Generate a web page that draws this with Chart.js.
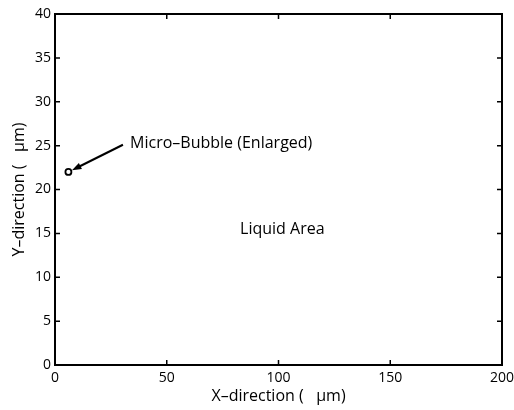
<!DOCTYPE html>
<html>
<head>
<meta charset="utf-8">
<script src="https://cdn.jsdelivr.net/npm/chart.js@4/dist/chart.umd.min.js"></script>
<style>
  html, body { margin: 0; padding: 0; background: #fff; }
  #wrap { width: 514px; height: 410px; }
</style>
</head>
<body>
<div id="wrap"><canvas id="plot"></canvas></div>
<script>
// bubble position (data units)
const bubbleX = [6];
const bubbleY = [22];

const xTicks = [0, 50, 100, 150, 200];
const yTicks = [0, 5, 10, 15, 20, 25, 30, 35, 40];

// text labels + arrow, in data units
const notes = [
  { text: 'Micro\u2013Bubble (Enlarged)', x: 33.6, y: 25.3 },
  { text: 'Liquid Area', x: 82.8, y: 15.5 }
];
const arrowFrom = [30.4, 25.1];
const arrowTo = [7.6, 22.2];

const FONT = '"Open Sans", "DejaVu Sans", sans-serif';

// frame with inward ticks, notes and arrow
const framePlugin = {
  id: 'frame',
  afterDatasetsDraw(chart) {
    const { ctx, chartArea: a, scales: { x, y } } = chart;
    ctx.save();
    ctx.strokeStyle = '#000';
    ctx.lineWidth = 2;
    ctx.strokeRect(a.left, a.top, a.right - a.left, a.bottom - a.top);

    ctx.lineWidth = 1.5;
    const t = 5;
    ctx.beginPath();
    xTicks.forEach(v => {
      const px = x.getPixelForValue(v);
      ctx.moveTo(px, a.bottom); ctx.lineTo(px, a.bottom - t);
      ctx.moveTo(px, a.top); ctx.lineTo(px, a.top + t);
    });
    yTicks.forEach(v => {
      const py = y.getPixelForValue(v);
      ctx.moveTo(a.left, py); ctx.lineTo(a.left + t, py);
      ctx.moveTo(a.right, py); ctx.lineTo(a.right - t, py);
    });
    ctx.stroke();

    ctx.fillStyle = '#000';
    ctx.font = '16px ' + FONT;
    ctx.textAlign = 'left';
    ctx.textBaseline = 'middle';
    notes.forEach(n => {
      ctx.fillText(n.text, x.getPixelForValue(n.x), y.getPixelForValue(n.y));
    });

    // arrow
    const x0 = x.getPixelForValue(arrowFrom[0]), y0 = y.getPixelForValue(arrowFrom[1]);
    const x1 = x.getPixelForValue(arrowTo[0]), y1 = y.getPixelForValue(arrowTo[1]);
    const ang = Math.atan2(y1 - y0, x1 - x0);
    const hl = 10, hw = 0.35;
    ctx.lineWidth = 2;
    ctx.beginPath();
    ctx.moveTo(x0, y0);
    ctx.lineTo(x1 - Math.cos(ang) * 6, y1 - Math.sin(ang) * 6);
    ctx.stroke();
    ctx.beginPath();
    ctx.moveTo(x1, y1);
    ctx.lineTo(x1 - hl * Math.cos(ang - hw), y1 - hl * Math.sin(ang - hw));
    ctx.lineTo(x1 - hl * Math.cos(ang + hw), y1 - hl * Math.sin(ang + hw));
    ctx.closePath();
    ctx.fill();
    ctx.restore();
  }
};

new Chart(document.getElementById('plot'), {
  type: 'scatter',
  data: {
    datasets: [{
      data: bubbleX.map((v, i) => ({ x: v, y: bubbleY[i] })),
      pointRadius: 3,
      pointBorderWidth: 1.8,
      pointBorderColor: '#000',
      pointBackgroundColor: '#fff'
    }]
  },
  options: {
    responsive: true,
    maintainAspectRatio: false,
    animation: false,
    layout: { padding: { top: 14, right: 12, left: 0, bottom: 0 } },
    plugins: { legend: { display: false }, tooltip: { enabled: false } },
    scales: {
      x: {
        type: 'linear', min: 0, max: 200,
        afterBuildTicks: s => { s.ticks = xTicks.map(v => ({ value: v })); },
        afterFit: s => { s.height = 45; s.paddingLeft = 0; s.paddingRight = 0; },
        grid: { display: false, drawTicks: false },
        border: { display: false },
        ticks: { color: '#000', font: { size: 14, family: FONT }, padding: 5, maxRotation: 0 },
        title: { display: true, text: 'X\u2013direction (   \u03bcm)', color: '#000',
                 font: { size: 16, family: FONT }, padding: { top: 0, bottom: 4 } }
      },
      y: {
        type: 'linear', min: 0, max: 40,
        afterBuildTicks: s => { s.ticks = yTicks.map(v => ({ value: v })); },
        afterFit: s => { s.width = 55; s.paddingTop = 0; s.paddingBottom = 0; },
        grid: { display: false, drawTicks: false },
        border: { display: false },
        ticks: { color: '#000', font: { size: 14, family: FONT }, padding: 4 },
        title: { display: true, text: 'Y\u2013direction (   \u03bcm)', color: '#000',
                 font: { size: 16, family: FONT }, padding: { top: 10, bottom: 0 } }
      }
    }
  },
  plugins: [framePlugin]
});
</script>
</body>
</html>
